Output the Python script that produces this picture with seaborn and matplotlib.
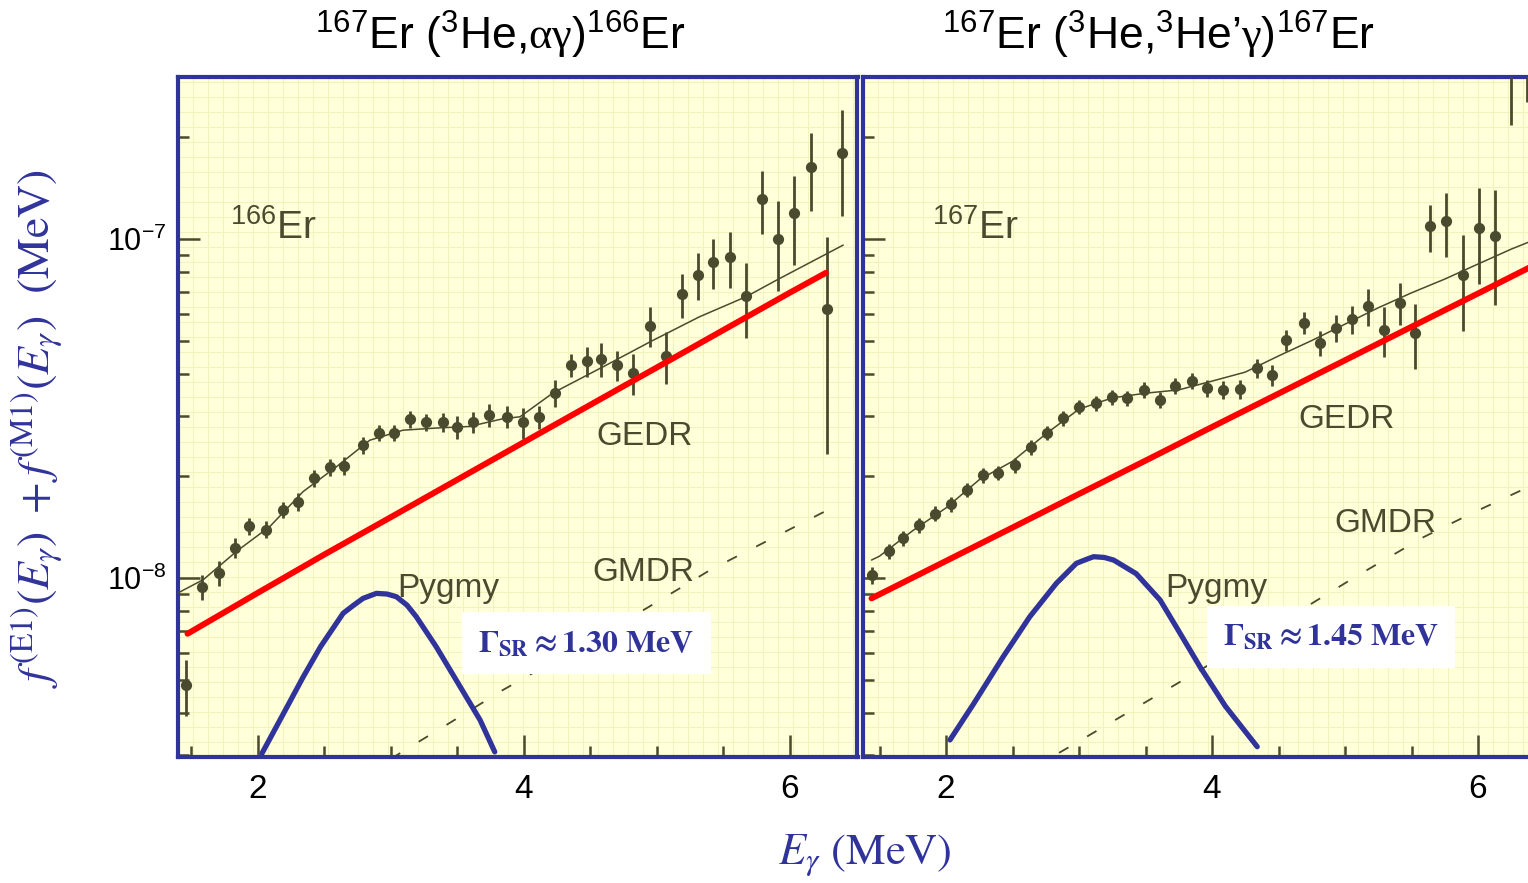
import numpy as np
import matplotlib
matplotlib.use("Agg")
import matplotlib.pyplot as plt
import matplotlib.ticker as mticker
import seaborn as sns

# ---------------- data (strength values in units of 1e-8 MeV^-3) ----------------
UNIT = 1e-8

# Left panel: 167Er(3He,alpha gamma)166Er
left_E = [1.46, 1.58, 1.71, 1.83, 1.93, 2.06, 2.19, 2.30, 2.42, 2.54, 2.65, 2.79, 2.91, 3.02,
          3.14, 3.26, 3.39, 3.50, 3.62, 3.74, 3.87, 3.99, 4.11, 4.23, 4.35, 4.47, 4.58, 4.70,
          4.82, 4.95, 5.07, 5.19, 5.31, 5.42, 5.55, 5.67, 5.79, 5.91, 6.03, 6.16, 6.28, 6.39]
left_f = [0.483, 0.941, 1.035, 1.23, 1.42, 1.39, 1.59, 1.68, 1.97, 2.12, 2.14, 2.47, 2.68, 2.68,
          2.94, 2.88, 2.88, 2.79, 2.88, 3.03, 2.99, 2.88, 2.99, 3.51, 4.25, 4.37, 4.43, 4.25,
          4.03, 5.54, 4.52, 6.88, 7.83, 8.55, 8.85, 6.79, 13.1, 10.0, 11.9, 16.3, 6.22, 17.9]
left_err = [0.09, 0.08, 0.09, 0.085, 0.08, 0.08, 0.09, 0.10, 0.11, 0.12, 0.13, 0.14, 0.15, 0.15,
            0.17, 0.17, 0.18, 0.21, 0.20, 0.24, 0.22, 0.30, 0.23, 0.32, 0.33, 0.45, 0.50, 0.44,
            0.56, 0.75, 0.79, 1.03, 1.24, 1.44, 1.66, 1.70, 2.74, 2.99, 3.50, 4.19, 3.90, 6.20]

left_fit_E = [1.39, 1.59, 1.84, 2.09, 2.34, 2.59, 2.84, 3.09, 3.34, 3.59, 3.84, 3.97, 4.22,
              4.62, 4.95, 5.32, 5.67, 5.90, 6.40]
left_fit_f = [0.90, 0.99, 1.20, 1.42, 1.80, 2.13, 2.55, 2.73, 2.77, 2.80, 2.95, 2.99, 3.52,
              4.25, 4.98, 5.90, 6.76, 7.57, 9.60]

left_gedr_E = [1.47, 2.0, 2.5, 3.0, 3.5, 4.0, 4.5, 5.0, 5.5, 6.0, 6.27]
left_gedr_f = [0.685, 0.905, 1.174, 1.513, 1.952, 2.518, 3.246, 4.183, 5.393, 6.953, 7.95]

left_gmdr_E = [3.00, 3.17, 3.50, 3.84, 4.50, 4.92, 5.40, 5.90, 6.38]
left_gmdr_f = [0.293, 0.322, 0.386, 0.467, 0.655, 0.814, 1.056, 1.33, 1.66]

left_pyg_E = [2.03, 2.165, 2.34, 2.47, 2.64, 2.72, 2.79, 2.89, 2.97, 3.04, 3.12, 3.19, 3.34,
              3.52, 3.67, 3.78]
left_pyg_f = [0.304, 0.381, 0.511, 0.627, 0.787, 0.832, 0.871, 0.901, 0.897, 0.881, 0.832,
              0.769, 0.627, 0.478, 0.381, 0.307]

# Right panel: 167Er(3He,3He' gamma)167Er
right_E = [1.44, 1.57, 1.68, 1.80, 1.92, 2.04, 2.16, 2.28, 2.39, 2.52, 2.64, 2.76, 2.88, 3.00,
           3.13, 3.25, 3.36, 3.49, 3.61, 3.72, 3.85, 3.96, 4.08, 4.21, 4.34, 4.45, 4.56, 4.69,
           4.81, 4.93, 5.05, 5.17, 5.29, 5.41, 5.53, 5.64, 5.76, 5.89, 6.01, 6.13, 6.25, 6.37]
right_f = [1.02, 1.20, 1.31, 1.43, 1.55, 1.65, 1.82, 2.01, 2.04, 2.15, 2.43, 2.68, 2.96, 3.20,
           3.28, 3.41, 3.39, 3.59, 3.35, 3.68, 3.82, 3.63, 3.59, 3.60, 4.16, 3.97, 5.04, 5.66,
           4.94, 5.47, 5.80, 6.34, 5.39, 6.49, 5.29, 10.9, 11.3, 7.83, 10.75, 10.2, 35.0, 38.0]
right_err = [0.06, 0.06, 0.07, 0.07, 0.08, 0.08, 0.09, 0.10, 0.10, 0.11, 0.12, 0.13, 0.15, 0.16,
             0.17, 0.17, 0.17, 0.19, 0.18, 0.20, 0.21, 0.21, 0.22, 0.23, 0.27, 0.28, 0.37, 0.43,
             0.42, 0.49, 0.56, 0.79, 0.91, 0.93, 1.16, 1.71, 2.42, 2.47, 3.36, 3.79, 13.3, 12.6]

right_fit_E = [1.44, 1.50, 1.75, 2.00, 2.25, 2.50, 2.75, 3.00, 3.25, 3.50, 3.75, 4.00, 4.25,
               4.50, 4.75, 5.00, 5.25, 5.50, 5.75, 6.00, 6.25, 6.41]
right_fit_f = [1.13, 1.16, 1.38, 1.61, 1.95, 2.21, 2.66, 3.15, 3.40, 3.51, 3.59, 3.81, 4.05,
               4.52, 5.02, 5.61, 6.27, 6.94, 7.62, 8.44, 9.34, 9.90]

right_gedr_E = [1.44, 2.00, 2.50, 3.00, 3.50, 4.00, 4.50, 5.00, 5.50, 6.00, 6.41]
right_gedr_f = [0.871, 1.123, 1.409, 1.77, 2.22, 2.79, 3.50, 4.39, 5.51, 6.91, 8.33]

right_gmdr_E = [2.85, 2.93, 3.40, 3.91, 4.30, 4.71, 5.10, 5.59, 5.95, 6.41]
right_gmdr_f = [0.305, 0.318, 0.408, 0.535, 0.66, 0.823, 1.02, 1.32, 1.55, 1.88]

right_pyg_E = [2.03, 2.21, 2.43, 2.63, 2.83, 2.98, 3.06, 3.11, 3.19, 3.26, 3.43, 3.61, 3.76,
               3.91, 4.10, 4.34]
right_pyg_f = [0.333, 0.427, 0.586, 0.769, 0.965, 1.105, 1.137, 1.156, 1.15, 1.13, 1.03, 0.861,
               0.687, 0.547, 0.419, 0.318]

x_ticks = [2, 4, 6]
titles = [r"$\mathrm{{}^{167}Er\ ({}^{3}He{,}}\mathsf{\alpha\gamma}\mathrm{)^{166}Er}$",
          r"$\mathrm{{}^{167}Er\ ({}^{3}He{,}{}^{3}He’}\mathsf{\gamma}\mathrm{)^{167}Er}$"]
nuclei = [r"$\mathrm{{}^{166}Er}$", r"$\mathrm{{}^{167}Er}$"]
gamma_texts = [r"$\mathbf{\Gamma_{SR}\approx 1.30\ MeV}$", r"$\mathbf{\Gamma_{SR}\approx 1.45\ MeV}$"]

# ---------------- style ----------------
sns.set_theme(style="white")
plt.rcParams["font.family"] = ["Liberation Sans", "DejaVu Sans"]
plt.rcParams["mathtext.fontset"] = "custom"
plt.rcParams["mathtext.rm"] = "Liberation Sans"
plt.rcParams["mathtext.it"] = "Liberation Sans:italic"
plt.rcParams["mathtext.bf"] = "Liberation Sans:bold"
plt.rcParams["mathtext.sf"] = "Liberation Serif"

NAVY = "#30339A"
OLIVE = "#4A4A2E"
RED = "#FF0000"
BG = "#FFFFD9"
GRID = "#F2F2BC"

W, H = 1528, 883
fig = plt.figure(figsize=(W / 100, H / 100), dpi=100)
fig.patch.set_facecolor("white")

YMIN, YMAX = 2.965e-9, 3.007e-7


def rect(x0, y0, x1, y1):
    return [x0 / W, 1 - y1 / H, (x1 - x0) / W, (y1 - y0) / H]


def make_panel(r, xlim, pts, fit, gedr, gmdr, pyg, nucleus, nuc_pos, lab_pos, gtext, gpos, show_y):
    bg = fig.add_axes(r, zorder=0)
    bg.set_facecolor(BG)
    bg.set_xlim(0, 1)
    bg.set_ylim(0, 1)
    bg.xaxis.set_major_locator(mticker.MultipleLocator(15 / (r[2] * W)))
    bg.yaxis.set_major_locator(mticker.MultipleLocator(15 / (r[3] * H)))
    bg.grid(True, color=GRID, lw=0.7)
    bg.tick_params(length=0, labelbottom=False, labelleft=False)
    for s in bg.spines.values():
        s.set_visible(False)

    ax = fig.add_axes(r, zorder=1)
    ax.patch.set_visible(False)
    ax.set_yscale("log")
    ax.set_xlim(*xlim)
    ax.set_ylim(YMIN, YMAX)

    E, f, e = pts
    fv = np.array(f) * UNIT
    ev = np.array(e) * UNIT
    ax.errorbar(E, fv, yerr=ev, fmt="none", ecolor=OLIVE, elinewidth=2.0, capsize=0, zorder=3)
    sns.scatterplot(x=E, y=fv, ax=ax, color=OLIVE, s=65, linewidth=0, zorder=4, legend=False)

    sns.lineplot(x=fit[0], y=np.array(fit[1]) * UNIT, ax=ax, color=OLIVE, lw=1.1,
                 sort=False, estimator=None, legend=False, zorder=3)
    sns.lineplot(x=gmdr[0], y=np.array(gmdr[1]) * UNIT, ax=ax, color=OLIVE, lw=1.3,
                 linestyle=(0, (6, 12)), sort=False, estimator=None, legend=False, zorder=2)
    sns.lineplot(x=gedr[0], y=np.array(gedr[1]) * UNIT, ax=ax, color=RED, lw=4.3,
                 sort=False, estimator=None, legend=False, zorder=5)
    sns.lineplot(x=pyg[0], y=np.array(pyg[1]) * UNIT, ax=ax, color=NAVY, lw=3.8,
                 sort=False, estimator=None, legend=False, zorder=5)

    # ticks
    ax.xaxis.set_major_locator(mticker.FixedLocator(x_ticks))
    ax.xaxis.set_minor_locator(mticker.MultipleLocator(0.5))
    ax.yaxis.set_major_locator(mticker.LogLocator(base=10, numticks=10))
    ax.yaxis.set_minor_locator(mticker.LogLocator(base=10, subs=np.arange(2, 10), numticks=30))
    ax.yaxis.set_minor_formatter(mticker.NullFormatter())
    ax.tick_params(axis="both", which="both", direction="in", color=OLIVE, width=1.8,
                   bottom=True, left=True, top=False, right=False)
    ax.tick_params(which="major", length=16)
    ax.tick_params(which="minor", length=8)
    ax.tick_params(axis="x", which="major", labelsize=24, pad=12, labelcolor="black")
    ax.tick_params(axis="y", which="major", labelsize=22, pad=8, labelcolor="black",
                   labelleft=show_y)
    ax.set_xlabel("")
    ax.set_ylabel("")
    for s in ax.spines.values():
        s.set_color(NAVY)
        s.set_linewidth(3)

    # labels
    ax.text(nuc_pos[0], nuc_pos[1], nucleus, fontsize=28, color=OLIVE, ha="left", va="baseline")
    (gx, gy), (mx, my), (px, py) = lab_pos
    ax.text(gx, gy, "GEDR", fontsize=24, color=OLIVE, ha="center", va="baseline")
    ax.text(mx, my, "GMDR", fontsize=24, color=OLIVE, ha="center", va="baseline")
    ax.text(px, py, "Pygmy", fontsize=24, color=OLIVE, ha="left", va="baseline")
    ax.text(gpos[0], gpos[1], gtext, math_fontfamily="stix", fontsize=23, color=NAVY,
            ha="center", va="center", zorder=6,
            bbox=dict(boxstyle="square,pad=0.5", fc="white", ec="none"))
    return ax


axL = make_panel(rect(178, 77, 857.5, 757), (1.3985, 2 + (857.5 - 258) / 133),
                 (left_E, left_f, left_err), (left_fit_E, left_fit_f),
                 (left_gedr_E, left_gedr_f), (left_gmdr_E, left_gmdr_f), (left_pyg_E, left_pyg_f),
                 nuclei[0], (1.79, 1.0e-7),
                 ((4.906, 2.47e-8), (4.90, 9.8e-9), (3.045, 8.79e-9)),
                 gamma_texts[0], (4.47, 6.43e-9), True)

axR = make_panel(rect(863, 77, 1532, 757), (2 - (946 - 863) / 133, 2 + (1532 - 946) / 133),
                 (right_E, right_f, right_err), (right_fit_E, right_fit_f),
                 (right_gedr_E, right_gedr_f), (right_gmdr_E, right_gmdr_f),
                 (right_pyg_E, right_pyg_f),
                 nuclei[1], (1.895, 1.0e-7),
                 ((5.01, 2.77e-8), (5.30, 1.37e-8), (3.647, 8.79e-9)),
                 gamma_texts[1], (4.895, 6.70e-9), False)

# titles
fig.text(500 / W, 1 - 50 / H, titles[0], fontsize=32, color="black", ha="center", va="baseline")
fig.text(1158 / W, 1 - 50 / H, titles[1], fontsize=32, color="black", ha="center", va="baseline")

# axis labels
fig.text(38 / W, 1 - 428 / H,
         r"$f^{(\mathrm{E1})}(E_\gamma)\ +f^{(\mathrm{M1})}(E_\gamma)\ \ (\mathrm{MeV})$",
         math_fontfamily="stix", fontsize=33, color=NAVY, rotation=90, ha="center", va="center")
fig.text(865 / W, 1 - 855 / H, r"$E_\gamma\ (\mathrm{MeV})$", math_fontfamily="stix",
         fontsize=32, color=NAVY, ha="center", va="center")

fig.savefig("out.png", dpi=100, facecolor="white")
